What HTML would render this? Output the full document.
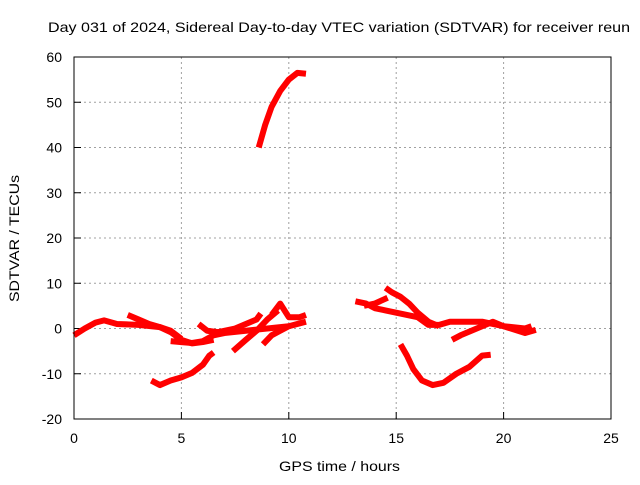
<!DOCTYPE html>
<html><head><meta charset="utf-8"><style>
body{margin:0;background:#fff}
svg text{font-family:"Liberation Sans",sans-serif;font-size:14px;fill:#000}
</style></head><body>
<svg id="c" width="640" height="480" xmlns="http://www.w3.org/2000/svg">
<rect width="640" height="480" fill="#fff"/>
<text x="48" y="32" textLength="582" lengthAdjust="spacingAndGlyphs">Day 031 of 2024, Sidereal Day-to-day VTEC variation (SDTVAR) for receiver reun</text>
<text x="279" y="471" textLength="121" lengthAdjust="spacingAndGlyphs">GPS time / hours</text>
<text transform="translate(19,302) rotate(-90)" textLength="127" lengthAdjust="spacingAndGlyphs">SDTVAR / TECUs</text>
<g id="grid"></g><g id="ticks"></g><g id="tracks"></g>
<rect x="74" y="57" width="537" height="362" fill="none" stroke="#000" stroke-width="1"/>
</svg>
<script>
const xTicks=[0,5,10,15,20,25];
const yTicks=[-20,-10,0,10,20,30,40,50,60];
const trackA=[[0,-1.5],[0.5,0],[1,1.3],[1.4,1.8],[2,1],[3,0.8],[4,0.3],[4.5,-0.8],[5,-2.5],[5.5,-3.3],[6,-3],[6.5,-2.5]];
const trackB=[[2.5,3],[3,2],[3.5,1],[4,0.3],[4.5,-0.5],[5,-2.3]];
const trackC=[[3.6,-11.5],[4,-12.5],[4.5,-11.5],[5,-10.8],[5.5,-9.8],[6,-8],[6.3,-6],[6.5,-5.3]];
const trackD=[[4.5,-2.8],[5,-3],[5.5,-3.2],[6,-2.8],[6.5,-1.5],[7,-1]];
const trackE=[[5.8,1],[6.2,-0.5],[7,-1],[8,-0.5],[9,0],[10,0.5]];
const trackF=[[7.4,-5],[8,-2.5],[8.5,-0.5],[9,2],[9.5,4]];
const trackG=[[6.5,-1],[7.5,0],[8.5,2],[8.7,3.3]];
const trackH=[[9.2,3],[9.6,5.5],[10,2.5],[10.5,2.5],[10.8,3]];
const trackI=[[8.8,-3.5],[9.2,-1.5],[9.6,-0.5],[10,0.5],[10.8,1.5]];
const trackJ=[[8.6,40],[8.9,45],[9.2,49],[9.6,52.5],[10,55],[10.4,56.5],[10.8,56.3]];
const trackK=[[13.1,6],[13.6,5.5],[14,4.5],[14.5,4],[15,3.5],[15.5,3],[16,2.5],[16.5,0.8],[17,0.8],[17.5,1.5],[18,1.5],[19,1.5],[20,0.5],[21,0],[21.3,0.5]];
const trackL=[[14.5,9],[14.8,8],[15.2,7],[15.6,5.5],[16,3.5],[16.5,1.5],[17,0.5]];
const trackM=[[13.5,5],[14,5.5],[14.6,6.8]];
const trackN=[[17.6,-2.5],[18,-1.5],[18.5,-0.5],[19,0.5],[19.5,1.5],[20,0.5],[21,-1],[21.5,-0.3]];
const trackO=[[15.2,-3.5],[15.5,-6],[15.8,-9],[16.2,-11.5],[16.7,-12.5],[17.2,-12],[17.8,-10],[18.4,-8.5],[19,-6],[19.4,-5.8]];
const tracks=[trackA,trackB,trackC,trackD,trackE,trackF,trackG,trackH,trackI,trackJ,trackK,trackL,trackM,trackN,trackO];
const NS="http://www.w3.org/2000/svg";
const X=h=>74+h*537/25, Y=v=>419-(v+20)*362/80;
const g=document.getElementById('grid'),t=document.getElementById('ticks'),tr=document.getElementById('tracks');
function mk(tag,attrs,parent){const e=document.createElementNS(NS,tag);for(const k in attrs)e.setAttribute(k,attrs[k]);parent.appendChild(e);return e;}
xTicks.forEach(v=>{
  const x=X(v);
  if(v>0&&v<25){const l=mk('line',{x1:x,x2:x,y1:57,y2:419,stroke:'#a0a0a0','stroke-dasharray':'2,3'},g);
  
  }
  const k=mk('line',{x1:x,x2:x,y1:419,y2:412,stroke:'#000'},t);
  
  
  const s=mk('text',{x:x,y:443,'text-anchor':'middle'},t);s.textContent=v;
  
  
});
yTicks.forEach(v=>{
  const y=Y(v);
  if(v>-20&&v<60){const l=mk('line',{x1:74,x2:611,y1:y,y2:y,stroke:'#a0a0a0','stroke-dasharray':'2,3'},g);
  
  }
  const k=mk('line',{x1:74,x2:81,y1:y,y2:y,stroke:'#000'},t);
  
  
  const s=mk('text',{x:62,y:y+5,'text-anchor':'end'},t);s.textContent=v;
  
  
});
tracks.forEach(d=>{
  const p=mk('polyline',{points:d.map(q=>X(q[0])+','+Y(q[1])).join(' '),fill:'none',stroke:'#f00','stroke-width':6,'stroke-linejoin':'round'},tr);
  
  
});
</script>
</body></html>
